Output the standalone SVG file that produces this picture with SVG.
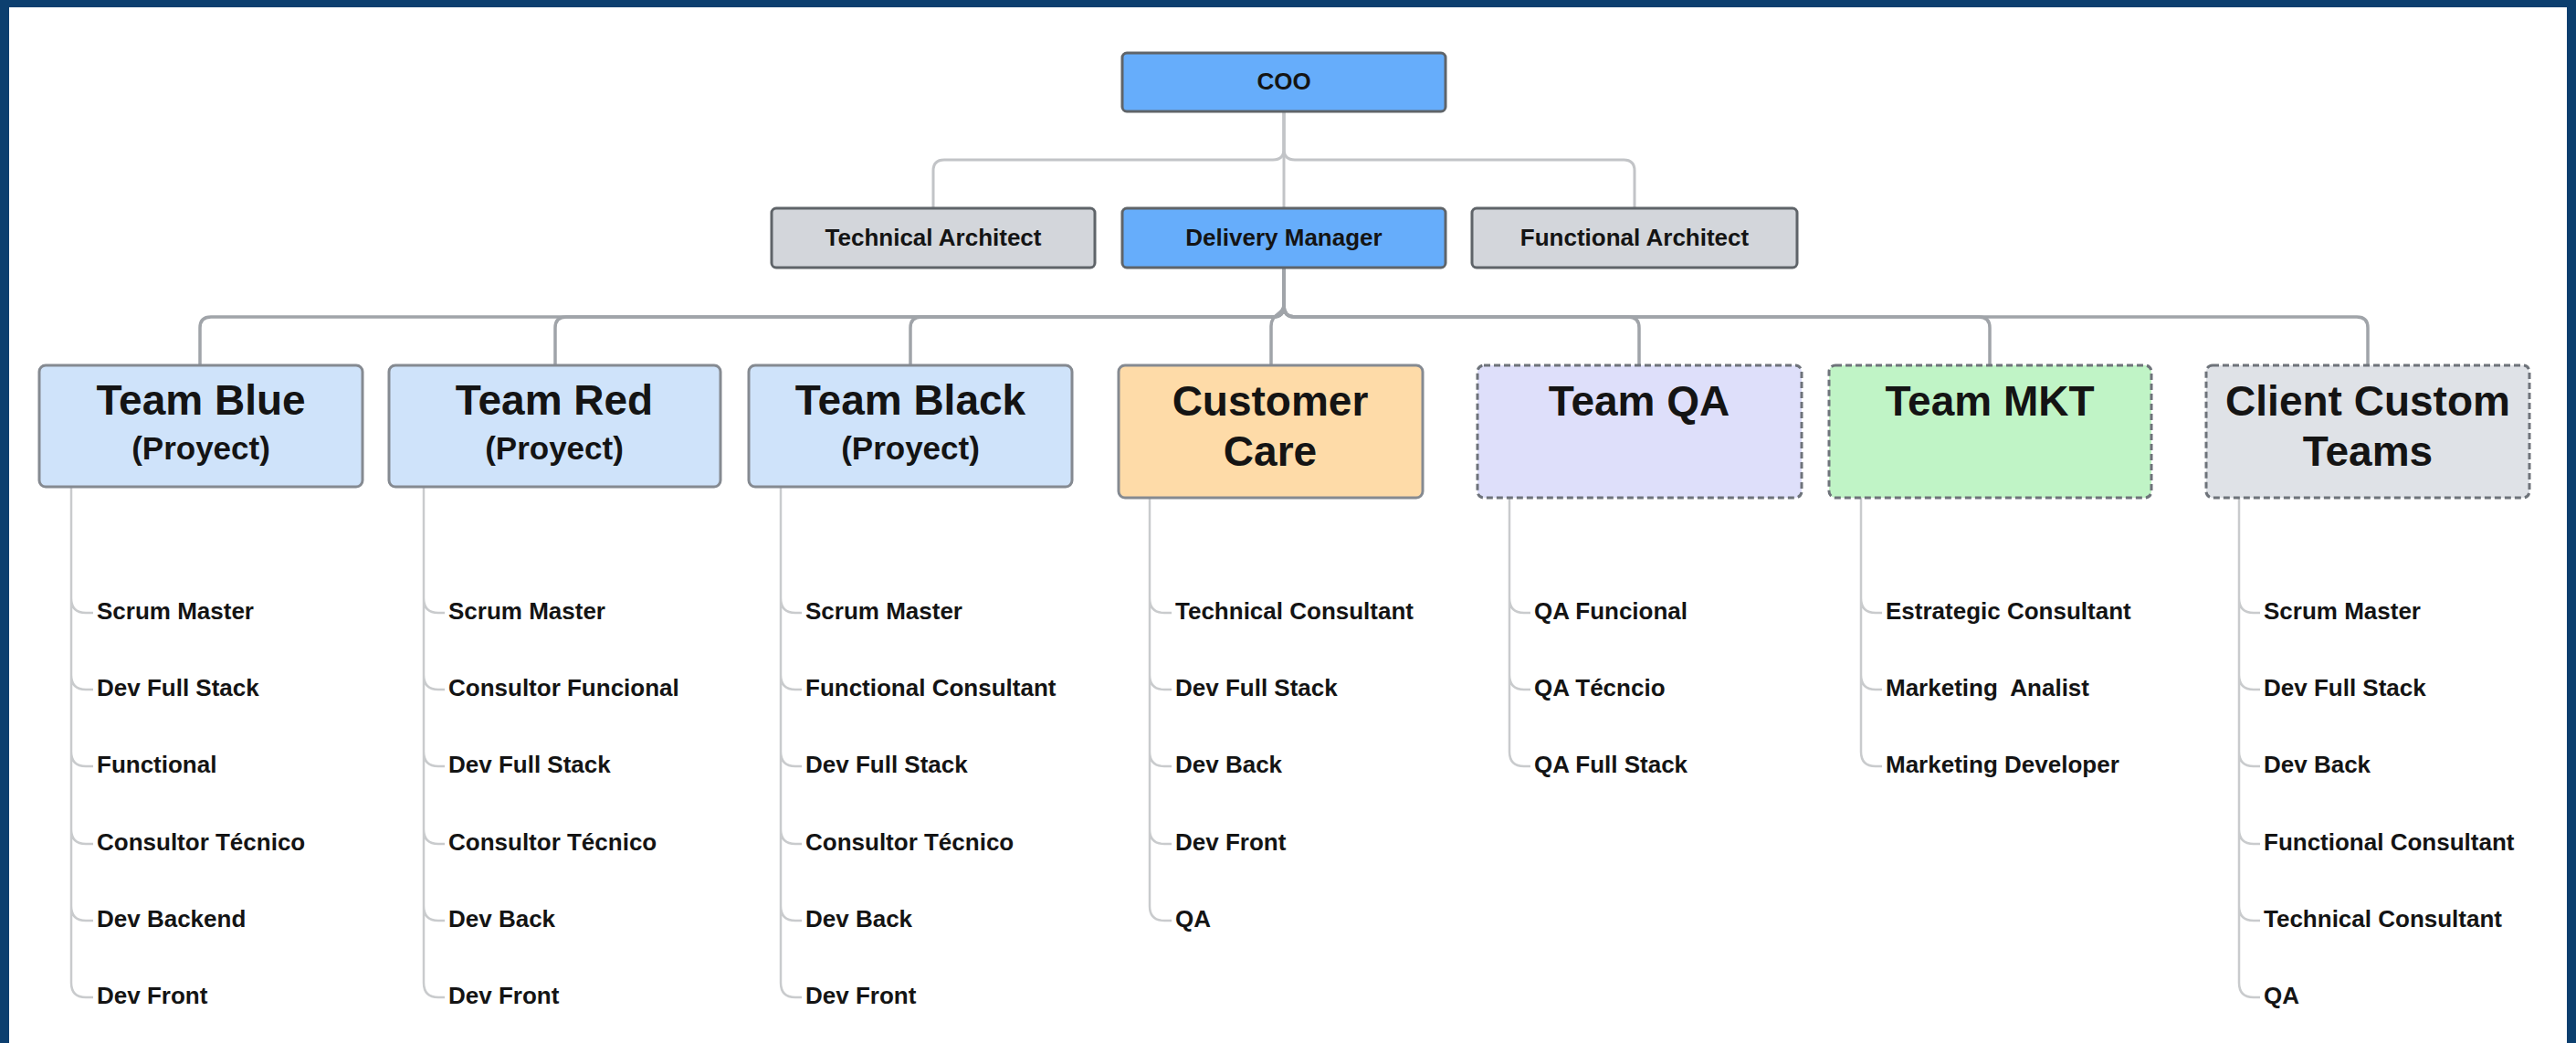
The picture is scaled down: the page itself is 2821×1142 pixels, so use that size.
<svg xmlns="http://www.w3.org/2000/svg" width="2821" height="1142" viewBox="0 0 2821 1142">
<style>
text{font-family:"Liberation Sans",Arial,sans-serif;font-weight:bold;fill:#141414}
.top{font-size:26px;text-anchor:middle}
.title{font-size:46px;text-anchor:middle}
.sub{font-size:35px;text-anchor:middle}
.lbl{font-size:26px;white-space:pre}
.box{stroke:#5f6469;stroke-width:3}
.tbox{stroke:#858a91;stroke-width:3}
.dash{stroke:#6e737a;stroke-width:3;stroke-dasharray:7 4}
.c1{fill:none;stroke:#c2c4c7;stroke-width:3}
.c2{fill:none;stroke:#a0a4a9;stroke-width:3.5}
.tree{fill:none;stroke:#c9cbcd;stroke-width:2.5}
</style>
<rect x="0" y="0" width="2821" height="1142" fill="#0c3f6f"/>
<rect x="10" y="8" width="2801" height="1134" fill="#ffffff"/>

<g id="connectors">
<path class="c1" d="M1406 122 V228"/>
<path class="c1" d="M1406 122 V163 Q1406 175 1394 175 H1034 Q1022 175 1022 187 V228"/>
<path class="c1" d="M1406 122 V163 Q1406 175 1418 175 H1778 Q1790 175 1790 187 V228"/>
<path class="c2" d="M1406 293 V335 Q1406 347 1394 347 H231 Q219 347 219 359 V400"/>
<path class="c2" d="M1406 293 V335 Q1406 347 1394 347 H620 Q608 347 608 359 V400"/>
<path class="c2" d="M1406 293 V335 Q1406 347 1394 347 H1009 Q997 347 997 359 V400"/>
<path class="c2" d="M1406 293 V333 C1406 345 1392 343 1392 357 V400"/>
<path class="c2" d="M1406 293 V335 Q1406 347 1418 347 H1783 Q1795 347 1795 359 V400"/>
<path class="c2" d="M1406 293 V335 Q1406 347 1418 347 H2167 Q2179 347 2179 359 V400"/>
<path class="c2" d="M1406 293 V335 Q1406 347 1418 347 H2581 Q2593 347 2593 359 V400"/>
<!-- tree lines -->
<path class="tree" d="M78 533 V1076 M78 655 Q78 671 94 671 H102 M78 739 Q78 755 94 755 H102 M78 823 Q78 839 94 839 H102 M78 908 Q78 924 94 924 H102 M78 992 Q78 1008 94 1008 H102 M78 1076 Q78 1092 94 1092 H102"/>
<path class="tree" d="M464 533 V1076 M464 655 Q464 671 480 671 H487 M464 739 Q464 755 480 755 H487 M464 823 Q464 839 480 839 H487 M464 908 Q464 924 480 924 H487 M464 992 Q464 1008 480 1008 H487 M464 1076 Q464 1092 480 1092 H487"/>
<path class="tree" d="M855 533 V1076 M855 655 Q855 671 871 671 H878 M855 739 Q855 755 871 755 H878 M855 823 Q855 839 871 839 H878 M855 908 Q855 924 871 924 H878 M855 992 Q855 1008 871 1008 H878 M855 1076 Q855 1092 871 1092 H878"/>
<path class="tree" d="M1259 545 V992 M1259 655 Q1259 671 1275 671 H1283 M1259 739 Q1259 755 1275 755 H1283 M1259 823 Q1259 839 1275 839 H1283 M1259 908 Q1259 924 1275 924 H1283 M1259 992 Q1259 1008 1275 1008 H1283"/>
<path class="tree" d="M1653 545 V823 M1653 655 Q1653 671 1669 671 H1676 M1653 739 Q1653 755 1669 755 H1676 M1653 823 Q1653 839 1669 839 H1676"/>
<path class="tree" d="M2038 545 V823 M2038 655 Q2038 671 2054 671 H2061 M2038 739 Q2038 755 2054 755 H2061 M2038 823 Q2038 839 2054 839 H2061"/>
<path class="tree" d="M2452 545 V1076 M2452 655 Q2452 671 2468 671 H2475 M2452 739 Q2452 755 2468 755 H2475 M2452 823 Q2452 839 2468 839 H2475 M2452 908 Q2452 924 2468 924 H2475 M2452 992 Q2452 1008 2468 1008 H2475 M2452 1076 Q2452 1092 2468 1092 H2475"/>
</g>

<g id="coo"><rect class="box" x="1229" y="58" width="354" height="64" rx="5" fill="#66adfb"/><text class="top" x="1406" y="98">COO</text></g>
<g id="technical-architect"><rect class="box" x="845" y="228" width="354" height="65" rx="5" fill="#d3d6db"/><text class="top" x="1022" y="269">Technical Architect</text></g>
<g id="delivery-manager"><rect class="box" x="1229" y="228" width="354" height="65" rx="5" fill="#66adfb"/><text class="top" x="1406" y="269">Delivery Manager</text></g>
<g id="functional-architect"><rect class="box" x="1612" y="228" width="356" height="65" rx="5" fill="#d3d6db"/><text class="top" x="1790" y="269">Functional Architect</text></g>

<g id="team-blue"><rect class="tbox" x="43" y="400" width="354" height="133" rx="7" fill="#cfe3fa"/><text class="title" x="220" y="454">Team Blue</text><text class="sub" x="220" y="503">(Proyect)</text>
<text class="lbl" x="106" y="678">Scrum Master</text><text class="lbl" x="106" y="762">Dev Full Stack</text><text class="lbl" x="106" y="846">Functional</text><text class="lbl" x="106" y="931">Consultor Técnico</text><text class="lbl" x="106" y="1015">Dev Backend</text><text class="lbl" x="106" y="1099">Dev Front</text></g>

<g id="team-red"><rect class="tbox" x="426" y="400" width="363" height="133" rx="7" fill="#cfe3fa"/><text class="title" x="607" y="454">Team Red</text><text class="sub" x="607" y="503">(Proyect)</text>
<text class="lbl" x="491" y="678">Scrum Master</text><text class="lbl" x="491" y="762">Consultor Funcional</text><text class="lbl" x="491" y="846">Dev Full Stack</text><text class="lbl" x="491" y="931">Consultor Técnico</text><text class="lbl" x="491" y="1015">Dev Back</text><text class="lbl" x="491" y="1099">Dev Front</text></g>

<g id="team-black"><rect class="tbox" x="820" y="400" width="354" height="133" rx="7" fill="#cfe3fa"/><text class="title" x="997" y="454">Team Black</text><text class="sub" x="997" y="503">(Proyect)</text>
<text class="lbl" x="882" y="678">Scrum Master</text><text class="lbl" x="882" y="762">Functional Consultant</text><text class="lbl" x="882" y="846">Dev Full Stack</text><text class="lbl" x="882" y="931">Consultor Técnico</text><text class="lbl" x="882" y="1015">Dev Back</text><text class="lbl" x="882" y="1099">Dev Front</text></g>

<g id="customer-care"><rect class="tbox" x="1225" y="400" width="333" height="145" rx="7" fill="#fedba8"/><text class="title" x="1391" y="455">Customer</text><text class="title" x="1391" y="510">Care</text>
<text class="lbl" x="1287" y="678">Technical Consultant</text><text class="lbl" x="1287" y="762">Dev Full Stack</text><text class="lbl" x="1287" y="846">Dev Back</text><text class="lbl" x="1287" y="931">Dev Front</text><text class="lbl" x="1287" y="1015">QA</text></g>

<g id="team-qa"><rect class="dash" x="1618" y="400" width="355" height="145" rx="7" fill="#dedffa"/><text class="title" x="1795" y="455">Team QA</text>
<text class="lbl" x="1680" y="678">QA Funcional</text><text class="lbl" x="1680" y="762">QA Técncio</text><text class="lbl" x="1680" y="846">QA Full Stack</text></g>

<g id="team-mkt"><rect class="dash" x="2003" y="400" width="353" height="145" rx="7" fill="#c0f4c6"/><text class="title" x="2179" y="455">Team MKT</text>
<text class="lbl" x="2065" y="678">Estrategic Consultant</text><text class="lbl" x="2065" y="762">Marketing  Analist</text><text class="lbl" x="2065" y="846">Marketing Developer</text></g>

<g id="client-custom-teams"><rect class="dash" x="2416" y="400" width="354" height="145" rx="7" fill="#dfe2e7"/><text class="title" x="2593" y="455">Client Custom</text><text class="title" x="2593" y="510">Teams</text>
<text class="lbl" x="2479" y="678">Scrum Master</text><text class="lbl" x="2479" y="762">Dev Full Stack</text><text class="lbl" x="2479" y="846">Dev Back</text><text class="lbl" x="2479" y="931">Functional Consultant</text><text class="lbl" x="2479" y="1015">Technical Consultant</text><text class="lbl" x="2479" y="1099">QA</text></g>
</svg>
